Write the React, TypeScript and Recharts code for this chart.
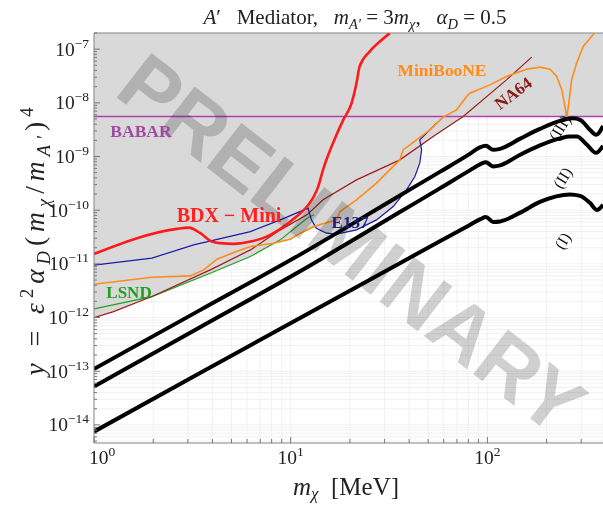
import React from "react";
import {
  Area,
  CartesianGrid,
  ComposedChart,
  Line,
  ReferenceLine,
  XAxis,
  YAxis,
} from "recharts";

const SERIF = "'Liberation Serif', 'DejaVu Serif', serif";
const SANS = "'Liberation Sans', Arial, sans-serif";
const NB = "\u00a0";

const X_MIN = 1;
const X_MAX = 387;
const Y_MIN = 4.6e-15;
const Y_MAX = 2e-7;

// BDX-Mini projection
const bdxMass = [1, 2.64, 3.03, 3.47, 3.98, 4.39, 5.13, 6.24, 7.55, 9.21, 10.7, 12.1, 13.1, 13.8, 14.6, 16.4, 18.5, 20.4, 21.6, 22.4, 25.2, 28.4, 31.9];
const bdxY = [1.53e-11, 4.49e-11, 4.74e-11, 3.73e-11, 2.6e-11, 2.43e-11, 2.36e-11, 2.6e-11, 3.22e-11, 4.95e-11, 7.6e-11, 1.17e-10, 1.79e-10, 2.75e-10, 5.64e-10, 1.77e-9, 4.82e-9, 9.86e-9, 2.32e-8, 4.74e-8, 9.02e-8, 1.39e-7, 1.99e-7];

// E137
const e137Mass = [1, 1.97, 3.21, 6.24, 8.86, 12.25, 12.75, 13.5, 15.2, 17.1, 21.6, 27.3, 33.2, 38.8, 42.8, 45.3, 46.3, 45.3, 51.0, 55.1];
const e137Y = [9.45e-12, 1.28e-11, 2.26e-11, 3.99e-11, 6.6e-11, 1.09e-10, 6.6e-11, 4.62e-11, 3.73e-11, 3.57e-11, 4.3e-11, 6.6e-11, 1.17e-10, 2.39e-10, 4.23e-10, 7.51e-10, 1.33e-9, 2.04e-9, 3.14e-9, 4.18e-9];

// NA64
const na64Mass = [1, 1.257, 1.97, 3.9, 6.24, 8.86, 12.1, 14.6, 21.6, 35.9, 53, 75.3, 125, 168];
const na64Y = [9.98e-13, 1.29e-12, 2.46e-12, 7.72e-12, 1.82e-11, 4.3e-11, 8.18e-11, 1.56e-10, 3.67e-10, 8.66e-10, 2.35e-9, 5.55e-9, 2.68e-8, 7.1e-8];

// LSND
const lsndMass = [1, 1.97, 3.9, 6.24, 8.86, 12.1, 13.1];
const lsndY = [1.45e-12, 2.46e-12, 6.7e-12, 1.37e-11, 2.8e-11, 7.1e-11, 8.2e-11];

// MiniBooNE
const mbMass = [1, 1.97, 3.09, 3.61, 4.22, 5.13, 6.24, 8.19, 9.96, 11.2, 13.1, 17.1, 17.8, 21.6, 27.3, 34.5, 35.9, 37.3, 43.6, 51, 59.6, 69.7, 78.4, 81.4, 103, 125, 158, 185, 208, 225, 239, 248, 253, 258, 268, 284, 307, 352];
const mbY = [4.18e-12, 5.64e-12, 5.97e-12, 7.72e-12, 1.22e-11, 1.62e-11, 2.1e-11, 2.43e-11, 2.88e-11, 3.73e-11, 4.95e-11, 6.6e-11, 9.42e-11, 1.56e-10, 3.19e-10, 7.51e-10, 8.66e-10, 1.33e-9, 2.04e-9, 3.14e-9, 5.41e-9, 7.4e-9, 1.31e-8, 1.51e-8, 2.16e-8, 3.09e-8, 4.24e-8, 4.62e-8, 4.24e-8, 3.09e-8, 1.74e-8, 8.52e-9, 5.18e-9, 8.52e-9, 2.68e-8, 5.48e-8, 1.12e-7, 2.04e-7];

// BABAR
const babarMass = [1, 387];
const babarY = [5.56e-9, 5.56e-9];

// thermal targets (I), (II), (III)
const t3Mass = [1, 3.44, 11.1, 35.9, 57.3, 81.4, 91.6, 98.2, 107, 116, 146, 185, 234, 272, 296, 332, 357, 387];
const t3Y = [1.1e-13, 1.36e-12, 1.47e-11, 1.88e-10, 5.17e-10, 1.12e-9, 1.48e-9, 1.58e-9, 1.33e-9, 1.39e-9, 2.13e-9, 3.27e-9, 4.61e-9, 5.14e-9, 4.82e-9, 3.14e-9, 2.53e-9, 3.72e-9];

const t2Mass = [1, 3.44, 11.1, 35.9, 57.3, 81.4, 92.7, 98.2, 107, 116, 146, 185, 234, 263, 285, 321, 357, 387];
const t2Y = [5.17e-14, 6.55e-13, 7.18e-12, 9.22e-11, 2.55e-10, 5.52e-10, 7.29e-10, 7.78e-10, 6.55e-10, 6.84e-10, 1.07e-9, 1.61e-9, 2.18e-9, 2.35e-9, 2.35e-9, 1.65e-9, 1.17e-9, 1.58e-9];

const t1Mass = [1, 3.44, 11.1, 35.9, 57.3, 81.4, 92.7, 98.2, 107, 116, 146, 185, 263, 296, 332, 361, 387];
const t1Y = [7.49e-15, 9.14e-14, 9.72e-13, 1.03e-11, 2.64e-11, 5.32e-11, 6.89e-11, 7.5e-11, 6.05e-11, 6.18e-11, 8.91e-11, 1.43e-10, 1.97e-10, 1.85e-10, 1.37e-10, 1.01e-10, 1.26e-10];

// lower edge of the excluded (gray) region
const excMass = [1, 1.257, 1.97, 3.9, 6.24, 8.19, 9.96, 11.2, 13.3, 15.2, 17.1, 21.6, 27.3, 33.2, 38.8, 42.8, 45.3, 46.3, 46.5, 53, 75.3, 387];
const excY = [9.98e-13, 1.29e-12, 2.46e-12, 6.7e-12, 1.37e-11, 2.41e-11, 2.88e-11, 3.73e-11, 4.7e-11, 3.73e-11, 3.57e-11, 4.3e-11, 6.6e-11, 1.17e-10, 2.39e-10, 4.23e-10, 7.51e-10, 1.33e-9, 1.6e-9, 2.35e-9, 5.56e-9, 5.56e-9];

const xTicks = [1, 2, 3, 4, 5, 6, 7, 8, 9, 10, 20, 30, 40, 50, 60, 70, 80, 90, 100, 200, 300];
const yTicks: number[] = [];
for (let e = -15; e <= -7; e++) {
  for (let m = 1; m <= 9; m++) {
    const v = m * Math.pow(10, e);
    if (v >= Y_MIN && v <= Y_MAX) yTicks.push(v);
  }
}

const zip = (xs: number[], ys: number[]) => xs.map((m, i) => ({ m, y: ys[i] }));
const excData = excMass.map((m, i) => ({ m, band: [excY[i], Y_MAX] }));

function decade(v: number) {
  const l = Math.log10(v);
  const e = Math.round(l);
  return { e, major: Math.abs(l - e) < 1e-6 };
}

function XTick({ x, y, payload }: any) {
  const { e, major } = decade(payload.value);
  const shift = e === 0 ? 8 : 0;
  return (
    <g>
      <line x1={x} x2={x} y1={y} y2={y - (major ? 6 : 4)} stroke="#777" />
      {major && (
        <text x={x + shift} y={y + 21} textAnchor="middle" fontSize={19.5} fontFamily={SERIF} fill="#222">
          10<tspan dy={-8} fontSize={13.5}>{e}</tspan>
        </text>
      )}
    </g>
  );
}

function YTick({ x, y, payload }: any) {
  const { e, major } = decade(payload.value);
  return (
    <g>
      <line x1={x} x2={x + (major ? 6 : 3)} y1={y} y2={y} stroke="#777" />
      {major && (
        <text x={x - 5} y={y + 6.5} textAnchor="end" fontSize={19.5} fontFamily={SERIF} fill="#222">
          10<tspan dy={-8} fontSize={13.5}>{"\u2212" + Math.abs(e)}</tspan>
        </text>
      )}
    </g>
  );
}

const label = (color: string, size = 17) => ({
  fill: color,
  fontSize: size,
  fontWeight: 700 as const,
  fontFamily: SERIF,
});

export default function App() {
  return (
    <div style={{ position: "absolute", left: 0, top: 0, width: 603, height: 506, background: "#fff" }}>
      <ComposedChart
        width={603}
        height={506}
        data={excData}
        margin={{ top: 33, right: 0, bottom: 23, left: 0 }}
      >
        <CartesianGrid stroke="#f1f1f1" />
        <XAxis
          dataKey="m"
          type="number"
          scale="log"
          domain={[X_MIN, X_MAX]}
          allowDataOverflow
          ticks={xTicks}
          interval={0}
          tickSize={0}
          tickMargin={0}
          tick={<XTick />}
          height={40}
          stroke="#888"
        />
        <YAxis
          type="number"
          scale="log"
          domain={[Y_MIN, Y_MAX]}
          allowDataOverflow
          ticks={yTicks}
          interval={0}
          tickSize={0}
          tickMargin={0}
          tick={<YTick />}
          width={94}
          stroke="#888"
        />
        <Area dataKey="band" type="linear" fill="#d9d9d9" fillOpacity={1} stroke="none" isAnimationActive={false} />
        <ReferenceLine y={Y_MAX} stroke="#888" />
        <Line data={zip(babarMass, babarY)} dataKey="y" type="linear" stroke="#b040b0" strokeWidth={1.4} dot={false} isAnimationActive={false} />
        <Line data={zip(lsndMass, lsndY)} dataKey="y" type="linear" stroke="#22a022" strokeWidth={1.2} dot={false} isAnimationActive={false} />
        <Line data={zip(na64Mass, na64Y)} dataKey="y" type="linear" stroke="#a01c1c" strokeWidth={1.2} dot={false} isAnimationActive={false} />
        <Line data={zip(e137Mass, e137Y)} dataKey="y" type="linear" stroke="#1a1aa8" strokeWidth={1.2} dot={false} isAnimationActive={false} />
        <Line data={zip(mbMass, mbY)} dataKey="y" type="linear" stroke="#ff8c1a" strokeWidth={1.6} dot={false} isAnimationActive={false} />
        <Line data={zip(bdxMass, bdxY)} dataKey="y" type="monotoneX" stroke="#ff1a1a" strokeWidth={2.6} dot={false} isAnimationActive={false} />
        <Line data={zip(t1Mass, t1Y)} dataKey="y" type="monotoneX" stroke="#000" strokeWidth={4} dot={false} isAnimationActive={false} />
        <Line data={zip(t2Mass, t2Y)} dataKey="y" type="monotoneX" stroke="#000" strokeWidth={4} dot={false} isAnimationActive={false} />
        <Line data={zip(t3Mass, t3Y)} dataKey="y" type="monotoneX" stroke="#000" strokeWidth={4} dot={false} isAnimationActive={false} />
      </ComposedChart>

      <svg width={603} height={506} style={{ position: "absolute", left: 0, top: 0, mixBlendMode: "multiply", pointerEvents: "none" }}>
        <text
          x={352}
          y={244}
          transform="rotate(37.8 352 244)"
          textAnchor="middle"
          dominantBaseline="central"
          fontSize={82}
          fontWeight={700}
          fontFamily={SANS}
          fill="#d0d0d0"
        >
          PRELIMINARY
        </text>
      </svg>

      <svg width={603} height={506} style={{ position: "absolute", left: 0, top: 0, pointerEvents: "none" }}>
        <text x={355} y={24} textAnchor="middle" fontSize={21} fontFamily={SERIF} fill="#222">
          <tspan fontStyle="italic">A</tspan>
          <tspan>{`\u2032${NB}${NB}${NB}Mediator,${NB}${NB}${NB}`}</tspan>
          <tspan fontStyle="italic">m</tspan>
          <tspan dy={5} fontSize={14.5} fontStyle="italic">{"A\u2032"}</tspan>
          <tspan dy={-5}>{`${NB}=${NB}3`}</tspan>
          <tspan fontStyle="italic">m</tspan>
          <tspan dy={5} fontSize={14.5} fontStyle="italic">{"\u03c7"}</tspan>
          <tspan dy={-5}>{`,${NB}${NB}${NB}`}</tspan>
          <tspan fontStyle="italic">{"\u03b1"}</tspan>
          <tspan dy={5} fontSize={14.5} fontStyle="italic">D</tspan>
          <tspan dy={-5}>{`${NB}=${NB}0.5`}</tspan>
        </text>

        <text x={346} y={495} textAnchor="middle" fontSize={25} fontFamily={SERIF} fill="#222">
          <tspan fontStyle="italic">m</tspan>
          <tspan dy={4} fontSize={17} fontStyle="italic">{"\u03c7"}</tspan>
          <tspan dy={-4}>{`${NB}${NB}[MeV]`}</tspan>
        </text>

        <text transform="translate(44 239) rotate(-90)" textAnchor="middle" fontSize={27.5} fontFamily={SERIF} fill="#222" letterSpacing={5}>
          <tspan fontStyle="italic">y</tspan>
          <tspan>{`${NB}=${NB}`}</tspan>
          <tspan fontStyle="italic">{"\u03b5"}</tspan>
          <tspan dy={-11} fontSize={18.5}>2</tspan>
          <tspan dy={11} fontStyle="italic">{"\u03b1"}</tspan>
          <tspan dy={6} fontSize={18.5} fontStyle="italic">D</tspan>
          <tspan dy={-6}>(</tspan>
          <tspan fontStyle="italic">m</tspan>
          <tspan dy={6} fontSize={18.5} fontStyle="italic">{"\u03c7"}</tspan>
          <tspan dy={-6}>/</tspan>
          <tspan fontStyle="italic">m</tspan>
          <tspan dy={6} fontSize={18.5} fontStyle="italic">{"A\u2032"}</tspan>
          <tspan dy={-6}>)</tspan>
          <tspan dy={-11} fontSize={18.5}>4</tspan>
        </text>

        <text x={141} y={137} textAnchor="middle" {...label("#a04aa0", 17.5)}>BABAR</text>
        <text x={229} y={222} textAnchor="middle" {...label("#ff2020", 20)}>{`BDX${NB}\u2212${NB}Mini`}</text>
        <text x={129} y={298} textAnchor="middle" {...label("#22a022", 17)}>LSND</text>
        <text x={350} y={228} textAnchor="middle" {...label("#1c1c80", 17)}>E137</text>
        <text x={442} y={76} textAnchor="middle" {...label("#ff8c1a", 17.4)}>MiniBooNE</text>
        <text x={513} y={99} textAnchor="middle" transform="rotate(-37 513 93)" {...label("#8b1a1a", 17)}>NA64</text>

        <text x={560} y={133} textAnchor="middle" transform="rotate(-58 560 128)" fontSize={16} fontFamily={SERIF} fill="#111">(III)</text>
        <text x={563} y={183} textAnchor="middle" transform="rotate(-58 563 178)" fontSize={16} fontFamily={SERIF} fill="#111">(II)</text>
        <text x={563} y={246} textAnchor="middle" transform="rotate(-58 563 241)" fontSize={16} fontFamily={SERIF} fill="#111">(I)</text>
      </svg>
    </div>
  );
}
